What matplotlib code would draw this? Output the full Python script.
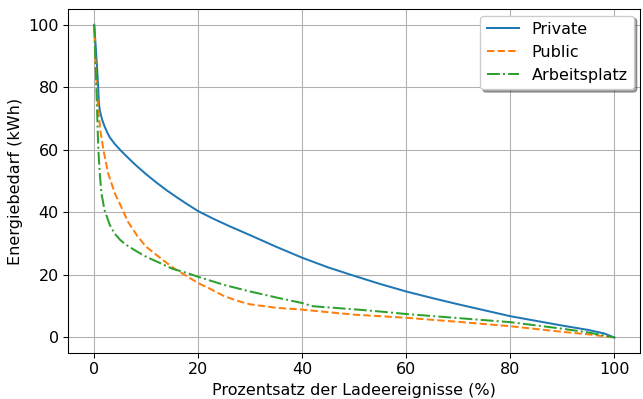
import numpy as np
import matplotlib
matplotlib.use('Agg')
import matplotlib.pyplot as plt

# Daten
x_private = [0, 0.3, 0.6, 0.8, 0.9, 1.1, 1.5, 2, 2.5, 3, 4, 5, 6, 7, 8, 10, 12, 14, 16, 18,
             20, 23, 26, 30, 35, 40, 45, 50, 55, 60, 65, 70, 75, 80, 85, 90, 95, 98, 100]
y_private = [100, 93, 85, 79, 75, 72.5, 69.8, 67.5, 65.6, 64.0, 61.8, 60, 58.3, 56.7, 55.1,
             52.2, 49.5, 47, 44.7, 42.5, 40.4, 37.9, 35.6, 32.7, 29.0, 25.5, 22.4, 19.7, 17.1,
             14.7, 12.6, 10.6, 8.7, 6.8, 5.3, 3.8, 2.4, 1.3, 0]

x_public = [0, 0.2, 0.5, 0.8, 1.2, 1.8, 2.7, 4, 5.2, 6.5, 8.4, 10, 12.8, 15, 17.9, 20, 22, 25,
            28, 30, 35, 40, 46.8, 50, 60, 70, 80, 90, 95, 100]
y_public = [100, 90, 80, 72.5, 66, 59.8, 52.4, 46, 41.8, 37, 32.2, 29, 25.3, 22.5, 19.5, 17.4,
            15.8, 13.2, 11.5, 10.6, 9.5, 8.9, 7.8, 7.3, 6.3, 5, 3.6, 1.8, 1, 0]

x_arbeit = [0, 0.1, 0.5, 0.8, 1.1, 1.4, 2, 3, 3.9, 5, 6, 7.7, 10, 12.8, 15, 17.9, 20, 25, 30,
            35, 40, 42, 46.8, 50, 55, 60, 70, 80, 90, 95, 100]
y_arbeit = [100, 96, 75.7, 60, 52, 46, 40.7, 36, 33.3, 31.2, 29.8, 28, 25.8, 23.7, 22, 20.6,
            19.4, 16.8, 14.7, 12.8, 11, 10, 9.4, 9, 8.3, 7.5, 6.2, 4.9, 2.8, 1.6, 0]

fig = plt.figure(figsize=(643 / 96, 399 / 96), dpi=96)
ax = fig.add_axes([0.106, 0.115, 0.89, 0.862])

ax.plot(x_private, y_private, '-', label='Private')
ax.plot(x_public, y_public, '--', label='Public')
ax.plot(x_arbeit, y_arbeit, '-.', label='Arbeitsplatz')

ax.set_xlabel('Prozentsatz der Ladeereignisse (%)', fontsize=12)
ax.set_ylabel('Energiebedarf (kWh)', fontsize=12)
ax.tick_params(labelsize=12)
ax.grid(True)
ax.legend(loc='upper right', fontsize=12, shadow=True, borderaxespad=0.4)

fig.savefig('out.png', dpi=96)
